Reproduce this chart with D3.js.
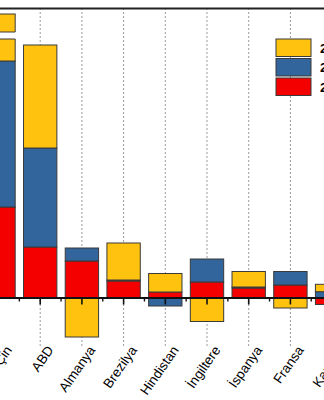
<!DOCTYPE html>
<html lang="tr">
<head>
<meta charset="UTF-8">
<script src="https://d3js.org/d3.v7.min.js"></script>
<style>
    body { margin: 0; background: #fff; }
    svg { display: block; }
    .grid line { stroke: #9a9a9a; stroke-width: 1; stroke-dasharray: 2,2; }
    .label { font: 13.5px "Liberation Sans", Arial, sans-serif; fill: #000; }
    .legend text { font: bold 13px "Liberation Sans", Arial, sans-serif; fill: #000; }
    .bar { stroke: #3a3a3a; stroke-width: 1; }
</style>
</head>
<body>
<svg width="324" height="400"></svg>
<script>
    // Data (stacked: red first, then blue, then yellow)
    const countries = ["Çin", "ABD", "Almanya", "Brezilya", "Hindistan", "İngiltere", "İspanya", "Fransa", "Kanada"];
    const seriesKeys = ["red", "blue", "yellow"];
    const seriesNames = ["2018", "2019", "2020"];
    const redValues = [91, 51, 37, 17, 6, 16, 10, 13, -6.5];
    const blueValues = [146, 99, 13, 1, -8, 23, 1, 13.5, 6.3];
    const yellowValues = [47, 103, -39, 37, 18.5, -23.5, 15.5, -10, 7.4];
    // axis break shown on the tallest bar
    const breakLow = 259, breakHigh = 266;

    const colors = { red: "#f50000", blue: "#31659b", yellow: "#ffc20f" };

    const rows = countries.map((c, i) => ({
        country: c, red: redValues[i], blue: blueValues[i], yellow: yellowValues[i]
    }));

    const svg = d3.select("svg");
    const W = 324;

    const x = d3.scaleBand()
        .domain(countries)
        .range([-22.35, 352.95])
        .paddingInner(0.2)
        .paddingOuter(0.1);
    const y = d3.scaleLinear().domain([-60, 290]).range([358, 8]);
    const step = x.step();
    const cx = d => x(d) + x.bandwidth() / 2;

    // vertical dashed grid
    svg.append("g").attr("class", "grid")
        .selectAll("line").data(countries).join("line")
        .attr("x1", d => cx(d)).attr("x2", d => cx(d))
        .attr("y1", y(290)).attr("y2", 346);

    // stacked bars
    const stacked = d3.stack().keys(seriesKeys).offset(d3.stackOffsetDiverging)(rows);
    svg.append("g").selectAll("g").data(stacked).join("g")
        .attr("fill", s => colors[s.key])
        .selectAll("rect").data(s => s).join("rect")
        .attr("class", "bar")
        .attr("x", d => x(d.data.country))
        .attr("width", x.bandwidth())
        .attr("y", d => y(Math.max(d[0], d[1])))
        .attr("height", d => Math.abs(y(d[0]) - y(d[1])));

    // axis break
    const broken = rows.filter((r, i) => d3.max(stacked, s => s[i][1]) > breakHigh);
    const br = svg.append("g");
    br.selectAll("rect").data(broken).join("rect")
        .attr("x", d => x(d.country) - 1.5)
        .attr("width", x.bandwidth() + 3)
        .attr("y", y(breakHigh))
        .attr("height", y(breakLow) - y(breakHigh))
        .attr("fill", "#fff");
    [breakHigh, breakLow].forEach(v => {
        br.selectAll(null).data(broken).join("line")
            .attr("x1", d => x(d.country)).attr("x2", d => x(d.country) + x.bandwidth())
            .attr("y1", y(v)).attr("y2", y(v))
            .attr("stroke", "#3a3a3a");
    });

    // top frame
    svg.append("line")
        .attr("x1", 0).attr("x2", W)
        .attr("y1", y(290) + 0.5).attr("y2", y(290) + 0.5)
        .attr("stroke", "#222").attr("stroke-width", 2);

    // zero axis with major / minor ticks
    const axis = svg.append("g").attr("transform", "translate(0," + y(0) + ")");
    axis.append("line").attr("x1", 0).attr("x2", W).attr("stroke", "#111").attr("stroke-width", 1.8);
    axis.selectAll(".major").data(countries).join("line")
        .attr("x1", d => cx(d)).attr("x2", d => cx(d))
        .attr("y1", 0).attr("y2", 6.5)
        .attr("stroke", "#111").attr("stroke-width", 1.6);
    axis.selectAll(".minor").data(countries).join("line")
        .attr("x1", d => cx(d) + step / 2).attr("x2", d => cx(d) + step / 2)
        .attr("y1", 0).attr("y2", 3.5)
        .attr("stroke", "#111").attr("stroke-width", 1.4);

    // rotated category labels
    svg.append("g").selectAll("text").data(countries).join("text")
        .attr("class", "label")
        .attr("text-anchor", "end")
        .attr("transform", d => "translate(" + (cx(d) + 14) + ",350) rotate(-55)")
        .text(d => d);

    // legend (yellow on top)
    const legendKeys = seriesKeys.slice().reverse();
    const lg = svg.append("g").attr("class", "legend");
    lg.selectAll("rect").data(legendKeys).join("rect")
        .attr("x", 276).attr("y", (d, i) => 39 + i * 19.5)
        .attr("width", 35).attr("height", 17.5)
        .attr("fill", d => colors[d])
        .attr("stroke", "#3a3a3a");
    lg.selectAll("text").data(legendKeys).join("text")
        .attr("x", 320).attr("y", (d, i) => 39 + i * 19.5 + 9)
        .attr("dy", "0.35em")
        .text(d => seriesNames[seriesKeys.indexOf(d)]);
</script>
</body>
</html>
